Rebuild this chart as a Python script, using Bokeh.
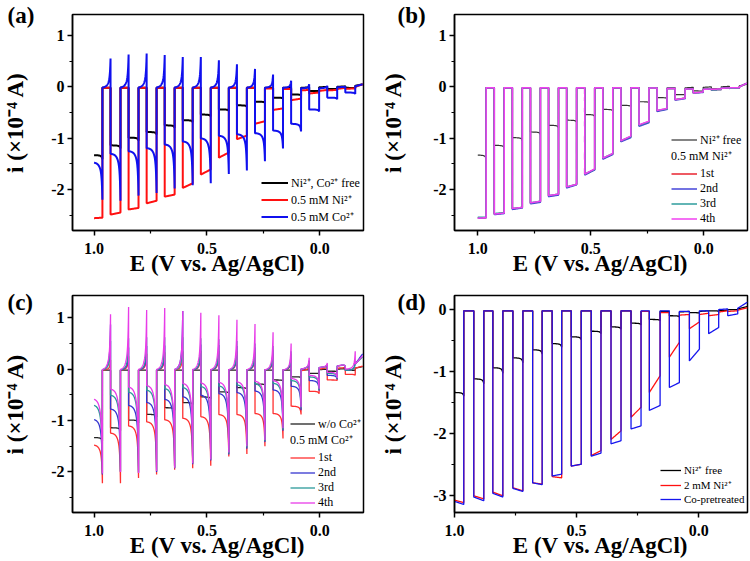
import numpy as np
from bokeh.plotting import figure
from bokeh.models import Range1d, FixedTicker, NumeralTickFormatter, Legend, LegendItem
from bokeh.layouts import column, row
from bokeh.embed import file_html
from bokeh.resources import INLINE

SERIF = "Liberation Serif"

# ---------------- illumination intervals (E, V vs Ag/AgCl) ----------------
on_start_abc = [1.000, 0.927, 0.847, 0.767, 0.687, 0.607, 0.527, 0.447, 0.367, 0.287, 0.207, 0.127, 0.047, -0.033, -0.113]
on_end_abc = [0.963, 0.883, 0.803, 0.723, 0.643, 0.563, 0.483, 0.403, 0.323, 0.243, 0.163, 0.083, 0.003, -0.077, -0.157]
scan_end_abc = -0.19
on_start_d = [1.000, 0.921, 0.843, 0.761, 0.680, 0.600, 0.522, 0.440, 0.359, 0.277, 0.202, 0.120, 0.038, -0.041, -0.119]
on_end_d = [0.962, 0.880, 0.802, 0.720, 0.641, 0.561, 0.481, 0.400, 0.318, 0.236, 0.158, 0.079, -0.003, -0.082, -0.160]
scan_end_d = -0.20

# ---------------- panel (a) ----------------
free_on = [-1.33, -1.14, -0.99, -0.88, -0.75, -0.65, -0.54, -0.44, -0.36, -0.29, -0.21, -0.15, -0.08, -0.04, -0.02]
free_tip = [-1.41, -1.20, -1.05, -0.93, -0.80, -0.69, -0.58, -0.47, -0.39, -0.31, -0.23, -0.16, -0.09, -0.045, -0.025]
free_dark0 = [-0.02, -0.02, -0.02, -0.02, -0.02, -0.02, -0.02, -0.02, -0.02, -0.02, -0.02, -0.02, -0.01, 0.00, 0.02]
free_dark1 = [-0.02, -0.02, -0.02, -0.02, -0.02, -0.02, -0.02, -0.02, -0.02, -0.02, -0.02, -0.01, 0.00, 0.01, 0.05]

ni_a_on = [-2.56, -2.49, -2.39, -2.27, -2.14, -1.97, -1.71, -1.38, -1.02, -0.72, -0.45, -0.26, -0.13, -0.07, -0.04]
ni_a_end = [-2.55, -2.45, -2.36, -2.22, -2.10, -1.88, -1.61, -1.28, -0.95, -0.67, -0.42, -0.23, -0.11, -0.06, -0.03]
ni_a_dark0 = [-0.02, -0.02, -0.02, -0.02, -0.02, -0.02, -0.02, -0.02, -0.02, -0.03, -0.04, -0.07, -0.08, -0.04, 0.00]
ni_a_dark1 = [-0.02, -0.02, -0.02, -0.02, -0.02, -0.02, -0.02, -0.02, -0.02, -0.03, -0.04, -0.06, -0.06, -0.02, 0.05]

co_a_on = [-1.47, -1.30, -1.25, -1.19, -1.12, -1.06, -1.00, -0.95, -0.92, -0.90, -0.85, -0.72, -0.44, -0.21, -0.11]
co_a_dip = [-2.20, -2.22, -2.12, -2.07, -1.98, -1.92, -1.88, -1.70, -1.63, -1.45, -1.20, -0.87, -0.48, -0.24, -0.14]
co_a_dark0 = [-0.02, -0.02, -0.02, -0.02, -0.02, -0.02, -0.02, -0.02, -0.02, -0.02, -0.02, -0.03, -0.03, -0.01, 0.01]
co_a_dark1 = [-0.02, -0.02, -0.02, -0.02, -0.02, -0.02, -0.02, -0.02, -0.02, -0.02, -0.02, -0.03, -0.02, 0.00, 0.05]
co_a_spike = [0.55, 0.63, 0.65, 0.62, 0.58, 0.58, 0.52, 0.44, 0.35, 0.24, 0.12, 0.05, 0.02, 0.00, None]

# ---------------- panel (b) : 0.5 mM Ni2+, runs 1-4 ----------------
b1_on = [-2.55, -2.48, -2.38, -2.27, -2.13, -1.96, -1.71, -1.40, -1.06, -0.75, -0.47, -0.25, -0.12, -0.06, -0.03]
b1_end = [-2.55, -2.46, -2.35, -2.24, -2.10, -1.90, -1.61, -1.31, -0.97, -0.68, -0.43, -0.22, -0.10, -0.05, -0.02]
b2_on = [-2.56, -2.49, -2.39, -2.28, -2.14, -1.97, -1.72, -1.41, -1.07, -0.77, -0.48, -0.26, -0.12, -0.06, -0.03]
b2_end = [-2.55, -2.47, -2.36, -2.25, -2.11, -1.91, -1.62, -1.32, -0.99, -0.70, -0.44, -0.23, -0.11, -0.05, -0.02]
b3_on = [-2.54, -2.47, -2.37, -2.26, -2.12, -1.95, -1.70, -1.39, -1.05, -0.75, -0.46, -0.25, -0.12, -0.06, -0.03]
b3_end = [-2.54, -2.45, -2.35, -2.23, -2.09, -1.90, -1.61, -1.30, -0.97, -0.68, -0.43, -0.22, -0.10, -0.05, -0.02]
b4_on = [-2.56, -2.48, -2.37, -2.26, -2.12, -1.95, -1.70, -1.39, -1.05, -0.74, -0.46, -0.25, -0.12, -0.05, -0.02]
b4_end = [-2.55, -2.46, -2.35, -2.23, -2.09, -1.90, -1.60, -1.30, -0.96, -0.67, -0.42, -0.22, -0.10, -0.04, -0.02]
b_dark0 = [-0.02, -0.02, -0.02, -0.02, -0.02, -0.02, -0.02, -0.02, -0.02, -0.025, -0.03, -0.04, -0.05, -0.03, 0.00]
b_dark1 = [-0.02, -0.02, -0.02, -0.02, -0.02, -0.02, -0.02, -0.02, -0.02, -0.025, -0.03, -0.04, -0.04, -0.02, 0.07]

# ---------------- panel (c) : 0.5 mM Co2+, runs 1-4 ----------------
c1_on = [-1.47, -1.24, -1.10, -1.02, -0.98, -0.95, -0.92, -0.88, -0.88, -0.86, -0.86, -0.72, -0.43, -0.21, -0.10]
c1_dip = [-2.22, -2.22, -2.12, -2.05, -1.96, -1.93, -1.88, -1.70, -1.65, -1.50, -1.35, -0.88, -0.48, -0.22, -0.12]
c1_spike = [0.18, 0.25, 0.30, 0.33, 0.35, 0.36, 0.36, 0.35, 0.33, 0.30, 0.22, 0.10, 0.05, 0.03, None]
c1_dark0 = [-0.02, -0.02, -0.02, -0.02, -0.02, -0.02, -0.02, -0.02, -0.02, -0.02, -0.02, -0.03, 0.00, 0.02, 0.02]
c1_dark1 = [-0.02, -0.02, -0.02, -0.02, -0.02, -0.02, -0.02, -0.02, -0.02, -0.02, -0.02, -0.02, 0.02, 0.03, 0.06]
c2_on = [-0.97, -0.77, -0.70, -0.64, -0.58, -0.53, -0.50, -0.47, -0.45, -0.42, -0.40, -0.33, -0.22, -0.12, -0.02]
c2_dip = [-2.05, -2.00, -2.02, -2.00, -1.93, -1.85, -1.78, -1.66, -1.55, -1.42, -1.20, -0.80, -0.42, -0.20, 0.15]
c2_spike = [0.87, 0.42, 0.45, 0.46, 1.13, 0.48, 0.47, 0.45, 0.42, 0.38, 0.30, 0.15, 0.08, 0.05, None]
c3_on = [-0.69, -0.50, -0.44, -0.40, -0.37, -0.35, -0.33, -0.32, -0.30, -0.28, -0.27, -0.22, -0.15, -0.08, -0.02]
c3_dip = [-2.03, -1.98, -2.00, -1.98, -1.92, -1.83, -1.76, -1.64, -1.52, -1.40, -1.18, -0.76, -0.40, -0.18, 0.12]
c3_spike = [0.55, 0.60, 0.62, 0.62, 0.62, 0.60, 0.58, 0.55, 0.50, 0.45, 0.35, 0.17, 0.09, 0.05, None]
c4_on = [-0.57, -0.38, -0.34, -0.31, -0.29, -0.27, -0.26, -0.25, -0.24, -0.23, -0.22, -0.18, -0.12, -0.06, 0.00]
c4_dip = [-2.03, -2.00, -2.02, -1.98, -1.92, -1.83, -1.76, -1.62, -1.50, -1.38, -1.15, -0.74, -0.38, -0.17, 0.35]
c4_spike = [1.07, 1.21, 1.15, 1.19, 1.13, 1.10, 1.05, 0.96, 0.88, 0.72, 0.50, 0.22, 0.12, 0.05, None]
cx_dark0 = [-0.02, -0.02, -0.02, -0.02, -0.02, -0.02, -0.02, -0.02, -0.02, -0.02, -0.02, 0.00, 0.03, 0.06, 0.10]
c2_dark1 = [-0.02, -0.02, -0.02, -0.02, -0.02, -0.02, -0.02, -0.02, -0.02, -0.02, -0.02, 0.02, 0.05, 0.10, 0.30]
c3_dark1 = [-0.02, -0.02, -0.02, -0.02, -0.02, -0.02, -0.02, -0.02, -0.02, -0.02, -0.02, 0.02, 0.05, 0.09, 0.24]
c4_dark1 = [-0.02, -0.02, -0.02, -0.02, -0.02, -0.02, -0.02, -0.02, -0.02, -0.02, -0.02, 0.02, 0.05, 0.10, 0.26]

# ---------------- panel (d) ----------------
free_d_on = [-1.34, -1.12, -0.94, -0.78, -0.65, -0.55, -0.44, -0.35, -0.28, -0.22, -0.16, -0.10, -0.05, -0.02, 0.00]
free_d_tip = [-1.40, -1.20, -1.03, -0.86, -0.72, -0.61, -0.49, -0.39, -0.32, -0.25, -0.18, -0.12, -0.06, -0.03, 0.00]
free_d_dark0 = [-0.02, -0.02, -0.02, -0.02, -0.02, -0.02, -0.02, -0.02, -0.02, -0.03, -0.03, -0.04, -0.03, -0.02, 0.01]
free_d_dark1 = [-0.02, -0.02, -0.02, -0.02, -0.02, -0.02, -0.02, -0.02, -0.02, -0.03, -0.03, -0.03, -0.02, -0.01, 0.05]
ni2_on = [-3.08, -3.01, -2.95, -2.88, -2.80, -2.70, -2.53, -2.36, -2.10, -1.74, -1.34, -0.77, -0.31, -0.10, -0.03]
ni2_end = [-3.12, -3.06, -3.01, -2.93, -2.82, -2.72, -2.50, -2.28, -1.96, -1.58, -1.07, -0.53, -0.20, -0.08, -0.02]
ni2_dark0 = [-0.02, -0.02, -0.02, -0.02, -0.02, -0.02, -0.02, -0.02, -0.02, -0.03, -0.05, -0.09, -0.08, -0.04, -0.01]
ni2_dark1 = [-0.02, -0.02, -0.02, -0.02, -0.02, -0.02, -0.02, -0.02, -0.02, -0.03, -0.05, -0.08, -0.06, -0.02, 0.03]
cop_on = [-3.10, -3.03, -2.97, -2.89, -2.80, -2.69, -2.53, -2.37, -2.17, -1.93, -1.63, -1.26, -0.83, -0.39, -0.10]
cop_end = [-3.15, -3.09, -3.03, -2.94, -2.83, -2.66, -2.50, -2.32, -2.12, -1.88, -1.55, -1.18, -0.64, -0.29, -0.07]
cop_dark0 = [-0.02, -0.02, -0.02, -0.02, -0.02, -0.02, -0.02, -0.02, -0.02, -0.02, -0.02, -0.03, -0.02, 0.00, 0.02]
cop_dark1 = [-0.02, -0.02, -0.02, -0.02, -0.02, -0.02, -0.02, -0.02, -0.02, -0.02, -0.02, -0.03, -0.02, 0.01, 0.12]


def transient(d):
    # relative weight of a transient that peaks at a light switching edge
    return 0.55 * np.exp(-d / 0.0025) + 0.45 * np.exp(-d / 0.010)


def chopped(starts, ends, stop, on_a, on_b, dk_a, dk_b, spike, kind):
    xs, ys = [], []
    n = 40
    for k in range(len(starts)):
        a, b = starts[k], ends[k]
        e = np.linspace(a, b, n)
        u = (a - e) / (a - b)
        if kind == "ramp":
            v = on_a[k] + (on_b[k] - on_a[k]) * u
        else:
            v = on_a[k] + (on_b[k] - on_a[k]) * transient(e - b)
        xs.extend(e.tolist()); ys.extend(v.tolist())
        c = starts[k + 1] if k + 1 < len(starts) else stop
        e = np.linspace(b, c, n)
        u = (b - e) / (b - c)
        v = dk_a[k] + (dk_b[k] - dk_a[k]) * u
        if spike is not None and spike[k] is not None:
            v = v + (spike[k] - dk_b[k]) * transient(e - c)
        xs.extend(e.tolist()); ys.extend(v.tolist())
    return xs, ys


def make_fig(w, h, bl, br, bt, bb, xr, yr, yt, ymt, ylab_stand, tag, tag_dx, tag_so):
    p = figure(width=w, height=h, x_range=Range1d(*xr), y_range=Range1d(*yr),
               output_backend="svg", toolbar_location=None,
               min_border_left=bl, min_border_right=br, min_border_top=bt, min_border_bottom=bb)
    # panel tag "(a)" etc. drawn as the figure title, pulled down over the border
    p.title.text = tag
    p.title.align = "left"
    p.title.offset = tag_dx
    p.title.text_font = SERIF
    p.title.text_font_style = "bold"
    p.title.text_font_size = "23px"
    p.title.text_color = "black"
    p.title.vertical_align = "bottom"
    try:
        p.title.standoff = tag_so
    except Exception:
        p.title.standoff = 0
    p.xgrid.visible = False
    p.ygrid.visible = False
    p.outline_line_color = "black"
    p.outline_line_width = 1.5
    p.outline_line_alpha = 1.0
    p.xaxis.ticker = FixedTicker(ticks=[1.0, 0.5, 0.0], minor_ticks=[0.75, 0.25])
    p.xaxis.formatter = NumeralTickFormatter(format="0.0")
    p.yaxis.ticker = FixedTicker(ticks=yt, minor_ticks=ymt)
    p.yaxis.formatter = NumeralTickFormatter(format="0")
    p.xaxis.axis_label = "E (V vs. Ag/AgCl)"
    p.yaxis.axis_label = "i (\u00d710\u207b\u2074 A)"
    for ax in (p.xaxis[0], p.yaxis[0]):
        ax.axis_line_width = 1.5
        ax.major_tick_line_width = 1.5
        ax.minor_tick_line_width = 1.2
        ax.major_tick_out = 5
        ax.major_tick_in = 0
        ax.minor_tick_out = 3
        ax.minor_tick_in = 0
        ax.major_label_text_font = SERIF
        ax.major_label_text_font_style = "bold"
        ax.major_label_text_font_size = "16px"
        ax.major_label_text_color = "black"
        ax.axis_label_text_font = SERIF
        ax.axis_label_text_font_style = "bold"
        ax.axis_label_text_font_size = "23px"
        ax.axis_label_text_color = "black"
    p.xaxis.major_label_standoff = 7
    p.xaxis.axis_label_standoff = -6
    p.yaxis.major_label_standoff = 3
    p.yaxis.axis_label_standoff = ylab_stand
    return p


def make_legend(items, loc, gw, gh, fs, title=None):
    lg = Legend(items=items, location=loc, orientation="vertical",
                glyph_width=gw, glyph_height=gh, label_height=gh, spacing=0,
                padding=0, margin=0, label_standoff=3,
                border_line_color=None, background_fill_alpha=0,
                label_text_font=SERIF, label_text_font_size=fs, label_text_color="black")
    if title is not None:
        lg.title = title
        lg.title_text_font = SERIF
        lg.title_text_font_style = "normal"
        lg.title_text_font_size = fs
        lg.title_text_color = "black"
        lg.title_standoff = 2
    return lg


YT = [-2, -1, 0, 1]
YMT = [-2.5, -1.5, -0.5, 0.5]

# ---------------- (a) ----------------
pa = make_fig(375, 280, 70, 12, 14, 50, (1.0955, -0.1936), (-2.80, 1.41), YT, YMT, 20, "(a)", -65, -27)
x, y = chopped(on_start_abc, on_end_abc, scan_end_abc, free_on, free_tip, free_dark0, free_dark1, None, "spike")
ra1 = pa.line(x, y, line_color="black", line_width=2)
x, y = chopped(on_start_abc, on_end_abc, scan_end_abc, ni_a_on, ni_a_end, ni_a_dark0, ni_a_dark1, None, "ramp")
ra2 = pa.line(x, y, line_color="#ff1010", line_width=2)
x, y = chopped(on_start_abc, on_end_abc, scan_end_abc, co_a_on, co_a_dip, co_a_dark0, co_a_dark1, co_a_spike, "spike")
ra3 = pa.line(x, y, line_color="#1010ee", line_width=2)
pa.add_layout(make_legend([LegendItem(label="Ni\u00b2\u207a, Co\u00b2\u207a free", renderers=[ra1]),
                           LegendItem(label="0.5 mM Ni\u00b2\u207a", renderers=[ra2]),
                           LegendItem(label="0.5 mM Co\u00b2\u207a", renderers=[ra3])],
                          (189, 5), 27, 17, "12px"))

# ---------------- (b) ----------------
pb = make_fig(375, 280, 79, 3, 14, 50, (1.103, -0.193), (-2.80, 1.41), YT, YMT, 24, "(b)", -57, -27)
x, y = chopped(on_start_abc, on_end_abc, scan_end_abc, free_on, free_tip, free_dark0, free_dark1, None, "spike")
rb0 = pb.line(x, y, line_color="#333333", line_width=1.2)
rbs = []
for on_a, on_b, col in ((b1_on, b1_end, "#e8232f"), (b2_on, b2_end, "#4545d8"),
                        (b3_on, b3_end, "#2e9c9c"), (b4_on, b4_end, "#f040f0")):
    x, y = chopped(on_start_abc, on_end_abc, scan_end_abc, on_a, on_b, b_dark0, b_dark1, None, "ramp")
    rbs.append(pb.line(x, y, line_color=col, line_width=1.5))
pb.add_layout(make_legend([LegendItem(label="Ni\u00b2\u207a free", renderers=[rb0])], (217, 82), 26, 15, "12px"))
pb.add_layout(make_legend([LegendItem(label=t, renderers=[r]) for t, r in zip(["1st", "2nd", "3rd", "4th"], rbs)],
                          (217, 4), 26, 15, "12px", title="0.5 mM Ni\u00b2\u207a"))

# ---------------- (c) ----------------
pc = make_fig(375, 281, 70, 12, 15, 49, (1.0955, -0.1936), (-2.79, 1.434), YT, YMT, 20, "(c)", -65, -39)
x, y = chopped(on_start_abc, on_end_abc, scan_end_abc, free_on, free_tip, free_dark0, free_dark1, None, "spike")
rc0 = pc.line(x, y, line_color="#222222", line_width=1.3)
rcs = []
for on_a, on_b, d0, d1, spk, col in ((c1_on, c1_dip, c1_dark0, c1_dark1, c1_spike, "#ff3030"),
                                     (c2_on, c2_dip, cx_dark0, c2_dark1, c2_spike, "#3535d0"),
                                     (c3_on, c3_dip, cx_dark0, c3_dark1, c3_spike, "#2a9a9a"),
                                     (c4_on, c4_dip, cx_dark0, c4_dark1, c4_spike, "#e83ce8")):
    x, y = chopped(on_start_abc, on_end_abc, scan_end_abc, on_a, on_b, d0, d1, spk, "spike")
    rcs.append(pc.line(x, y, line_color=col, line_width=1.3))
pc.add_layout(make_legend([LegendItem(label="w/o Co\u00b2\u207a", renderers=[rc0])], (218, 80), 25, 15, "12px"))
pc.add_layout(make_legend([LegendItem(label=t, renderers=[r]) for t, r in zip(["1st", "2nd", "3rd", "4th"], rcs)],
                          (218, 2), 25, 15, "12px", title="0.5 mM Co\u00b2\u207a"))

# ---------------- (d) ----------------
pd = make_fig(375, 281, 79, 3, 15, 49, (1.0, -0.2), (-3.28, 0.227), [-3, -2, -1, 0], [-2.5, -1.5, -0.5], 24,
              "(d)", -57, -39)
x, y = chopped(on_start_d, on_end_d, scan_end_d, free_d_on, free_d_tip, free_d_dark0, free_d_dark1, None, "spike")
rd1 = pd.line(x, y, line_color="black", line_width=1.3)
x, y = chopped(on_start_d, on_end_d, scan_end_d, ni2_on, ni2_end, ni2_dark0, ni2_dark1, None, "ramp")
rd2 = pd.line(x, y, line_color="#ff1010", line_width=1.3)
x, y = chopped(on_start_d, on_end_d, scan_end_d, cop_on, cop_end, cop_dark0, cop_dark1, None, "ramp")
rd3 = pd.line(x, y, line_color="#1515ee", line_width=1.3)
pd.add_layout(make_legend([LegendItem(label="Ni\u00b2\u207a free", renderers=[rd1]),
                           LegendItem(label="2 mM Ni\u00b2\u207a", renderers=[rd2]),
                           LegendItem(label="Co-pretreated", renderers=[rd3])],
                          (206, 6), 21, 14, "11px"))

layout = column(row(pa, pb), row(pc, pd))
open("out.html", "w").write(file_html(layout, INLINE))
